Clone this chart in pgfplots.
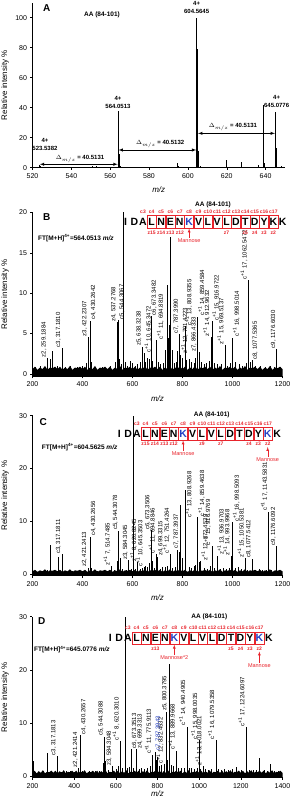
\documentclass[border=0pt]{standalone}
\usepackage{pgfplots}
\pgfplotsset{compat=1.18}
\usepackage{fontspec}
\setmainfont{Liberation Sans}
\setsansfont{Liberation Sans}
\definecolor{annred}{RGB}{232,36,44}
\definecolor{annblue}{RGB}{36,64,196}
\newcommand{\fs}[1]{\fontsize{#1}{#1}\selectfont}
\pgfplotsset{
  msaxis/.style={
    scale only axis, clip=false,
    axis x line*=bottom, axis y line*=left,
    tick align=outside, major tick length=2pt,
    tick style={black, line width=0.4pt},
    axis line style={line width=0.5pt},
    tick label style={font=\fs{7}},
    /pgf/number format/assume math mode=true,
    /pgf/number format/1000 sep={},
    ylabel={Relative intensity \%},
    ylabel style={font=\fs{8}, at={(axis description cs:-0.11,0.5)}, anchor=center},
    xlabel={\itshape m/z},
    xlabel style={font=\fs{8}, at={(axis description cs:0.5,0)}, anchor=center, yshift=-22pt},
  },
  pk/.style={ycomb, black, line width=0.45pt, mark=none},
  lblL/.style={draw=none, mark=none, nodes near coords, point meta=explicit symbolic,
     every node near coord/.style={rotate=90, anchor=south west, inner sep=0.6pt, font=\fs{6}, text=black}},
  lblR/.style={draw=none, mark=none, nodes near coords, point meta=explicit symbolic,
     every node near coord/.style={rotate=90, anchor=north west, inner sep=0.6pt, font=\fs{6}, text=black}},
}
% sequence helpers
\newcommand{\seqx}[1]{\pgfmathsetmacro\xx{(#1)<3 ? \xA+\dA*(#1) : \xL+\dL*((#1)-3)}}
\newcommand{\drawletters}[2]{%
 \foreach \ch [count=\i from 0] in {I,D,A,L,N,E,N,K,V,L,V,L,D,T,D,Y,K,K} {
   \seqx{\i}
   \ifnum\i>2 \ifnum\i<17 \draw[annred, line width=0.4pt] (\xx-4.5,\Yl-6.3) rectangle (\xx+4.5,\Yl+6.3);\fi\fi
   \def\col{black}
   \ifnum\i=#1 \def\col{annblue}\fi
   \ifnum\i=#2 \def\col{annblue}\fi
   \node[font=\bfseries\fs{10.5}, text=\col, inner sep=0] at (\xx,\Yl) {\ch};
 }}
\newcommand{\drawc}{\foreach \n in {3,...,17}{\seqx{\n-1}\node[font=\bfseries\fs{5}, text=annred, inner sep=0] at (\xx,\Yc) {c\n};}}
\newcommand{\drawz}[1]{\foreach \n in {#1}{\seqx{18-\n}\node[font=\bfseries\fs{5}, text=annred, inner sep=0] at (\xx,\Yz) {z\n};}}
\newcommand{\mann}[4]{\seqx{#1}\node[font=\fs{5.5}, text=annred, inner sep=0] at (\xx,#2) {#3};
 \draw[annred, line width=0.4pt, -latex] (\xx,#2+2.8) -- (\xx,#4);}
\begin{document}
\begin{tikzpicture}[x=1pt,y=1pt]
\path[use as bounding box] (0,0) rectangle (292,803);

% ---------------- Panel A ----------------
\begin{axis}[msaxis, at={(32.5pt,635.3pt)}, anchor=south west,
  width=252.5pt, height=165pt, xmin=520, xmax=650, ymin=0, ymax=110,
  xtick={520,540,...,640}, ytick={0,20,...,100},
  ylabel style={at={(axis description cs:-0.109,0.5)}}]
\addplot[pk, line width=0.6pt] coordinates {
 (523.30,0.8) (523.54,1.5) (523.79,1.0) (524.05,0.5)
 (530,0.3) (540,0.3) (551,1.2) (553,0.8) (558,0.6) (561,0.4)
 (564.05,38) (564.18,33) (564.30,26) (564.55,9) (564.80,3) (565.3,1.0) (566,0.5)
 (575,0.4) (585,0.7) (594.8,3.0) (595.2,1.0) (600,0.5)
 (604.56,100) (604.68,79) (604.81,68) (605.06,33) (605.31,11) (605.56,3) (606.5,0.8)
 (610,0.4) (615,0.5) (619.6,5.2) (620,2) (627.4,4.0) (627.7,1.5) (632,0.4) (636,1.5)
 (638.6,42) (638.85,10) (639.1,3)
 (645.08,37) (645.20,27) (645.33,13) (645.58,4) (648.3,1.0)
};
\node[font=\bfseries\fontsize{6}{8}\selectfont, align=center, anchor=south, inner sep=0.5pt] at (axis cs:526.4,10.8) {4+\\523.5382};
\node[font=\bfseries\fontsize{6}{8}\selectfont, align=center, anchor=south, inner sep=0.5pt] at (axis cs:564.0,38.8) {4+\\564.0513};
\node[font=\bfseries\fontsize{6}{8}\selectfont, align=center, anchor=south, inner sep=0.5pt] at (axis cs:604.5,102.3) {4+\\604.5645};
\node[font=\bfseries\fontsize{6}{8}\selectfont, align=center, anchor=south, inner sep=0.5pt] at (axis cs:645.7,39.5) {4+\\645.0776};
\draw[latex-latex, line width=0.5pt] (axis cs:523.8,2.3) -- (axis cs:563.8,2.3);
\draw[latex-latex, line width=0.5pt] (axis cs:564.3,11.8) -- (axis cs:604.3,11.8);
\draw[latex-latex, line width=0.5pt] (axis cs:605.3,22.9) -- (axis cs:644.8,22.9);
\node[font=\bfseries\fs{6}, inner sep=0] at (axis cs:544.5,5.6) {$\Delta_{m/z}$ = 40.5131};
\node[font=\bfseries\fs{6}, inner sep=0] at (axis cs:585.7,15.8) {$\Delta_{m/z}$ = 40.5132};
\node[font=\bfseries\fs{6}, inner sep=0] at (axis cs:623.2,27.1) {$\Delta_{m/z}$ = 40.5131};
\end{axis}
\node[font=\bfseries\fs{10}] at (46.7,794.7) {A};
\node[font=\bfseries\fs{6.5}] at (102,788) {AA (84-101)};

% ---------------- Panel B ----------------
\begin{axis}[msaxis, at={(32.5pt,426.6pt)}, anchor=south west,
  width=250pt, height=164pt, xmin=200, xmax=1200, ymin=-0.3, ymax=20,
  xtick={200,400,...,1200}, ytick={0,5,...,20}]
\addplot[fill=black, draw=none] coordinates {(200,-0.3)
 (200,0.6) (210,0.9) (220,0.5) (230,0.8) (240,0.6) (250,1.0) (260,0.5) (270,0.8) (280,0.7) (290,0.9)
 (300,0.6) (310,0.9) (320,0.5) (330,0.8) (340,0.6) (350,1.0) (360,0.5) (370,0.8) (380,0.7) (390,0.9)
 (400,0.6) (410,0.9) (420,0.5) (430,0.8) (440,0.6) (450,1.0) (460,0.5) (470,0.8) (480,0.7) (490,0.9)
 (500,0.6) (510,0.9) (520,0.5) (530,0.8) (540,0.6) (550,1.0) (560,0.5) (570,0.8) (580,0.7) (590,0.9)
 (600,0.6) (610,0.9) (620,0.5) (630,0.8) (640,0.6) (650,1.0) (660,0.5) (670,0.8) (680,0.7) (690,0.9)
 (700,0.6) (710,0.9) (720,0.5) (730,0.8) (740,0.6) (750,1.0) (760,0.5) (770,0.8) (780,0.7) (790,0.9)
 (800,0.6) (810,0.9) (820,0.5) (830,0.8) (840,0.6) (850,1.0) (860,0.5) (870,0.8) (880,0.7) (890,0.9)
 (900,0.6) (910,0.9) (920,0.5) (930,0.8) (940,0.6) (950,1.0) (960,0.5) (970,0.8) (980,0.7) (990,0.9)
 (1000,0.6) (1010,0.9) (1020,0.5) (1030,0.8) (1040,0.6) (1050,1.0) (1060,0.5) (1070,0.8) (1080,0.7) (1090,0.9)
 (1100,0.6) (1110,0.9) (1120,0.5) (1130,0.8) (1140,0.6) (1150,1.0) (1160,0.5) (1170,0.8) (1180,0.7) (1190,0.9)
 (1200,0.6) (1200,-0.3)} -- cycle;
\addplot[pk] coordinates {
 (210,0.9) (230,1.0) (245,0.9) (259.19,2.0) (270,1.8) (280.5,2.9) (300,1.0) (317.18,3.2) (330,0.9) (350,1.0)
 (380,0.9) (400,1.0) (415,1.3) (422.23,4.6) (430.26,6.6) (433,1.5) (450,0.9) (480,0.9) (510,1.0) (530,1.5)
 (537.28,6.4) (544.31,6.7) (548,1.8) (555,1.2) (564.05,20) (570,1.5) (580,1.0) (592,1.6) (597,1.4) (610,1.0)
 (620,1.2) (630,1.5) (638.32,3.4) (645.35,2.6) (652,1.5) (660,2.0) (667,1.8) (673.35,7.2) (680,1.6) (694.88,4.2)
 (702,1.5) (712,1.2) (722,1.4) (730,3.0) (737,11.0) (742,4.5) (746,6.0) (752.5,17.0) (758,3.0) (765,1.3)
 (773,1.5) (780,2.8) (787.40,4.9) (791.42,2.4) (800,2.0) (808.94,5.9) (815,1.7) (825,1.8) (835,1.5) (845,1.3)
 (852,2.0) (859.46,7.1) (866.43,2.7) (875,1.5) (885,1.2) (895,1.4) (905,1.6) (912.96,4.6) (916.97,6.5) (925,1.4)
 (940,1.2) (955,1.2) (969.51,3.6) (980,1.0) (990,1.3) (998.50,4.5) (1010,1.5) (1025,1.2) (1040,1.0) (1055,1.3)
 (1062.55,11.6) (1070,1.5) (1077.54,1.7) (1090,1.0) (1110,1.0) (1130,0.9) (1150,1.0) (1165,0.9) (1176.60,3.1) (1190,0.9)
};
\addplot[lblL] coordinates {
 (259.19,2.0) [z2, 259.1884]
 (317.18,3.2) [c3, 317.1810]
 (422.23,4.6) [z3, 422.2307]
 (537.28,6.4) [z4, 537.2768]
 (638.32,3.4) [z5, 638.3238]
 (787.40,4.9) [c7, 787.3990]
 (858.5,2.7) [z7, 866.4333]
 (912.96,4.6) [z\textsuperscript{+1} 14, 912.9632]
 (969.51,3.6) [z\textsuperscript{+1} 15, 969.5137]
 (1062.55,11.6) [c\textsuperscript{+1} 17, 1062.5472]
 (1176.60,3.1) [c9, 1176.6030]
};
\addplot[lblR] coordinates {
 (430.26,6.6) [c4, 430.2642]
 (544.31,6.7) [c5, 544.3067]
 (645.35,2.6) [c\textsuperscript{+1} 10, 645.3472]
 (673.35,7.2) [c6, 673.3482]
 (694.88,4.2) [c\textsuperscript{+1} 11, 694.8819]
 (791.42,2.4) [z\textsuperscript{+1} 12, 791.4223]
 (808.94,5.9) [c\textsuperscript{+1} 13, 808.9355]
 (859.46,7.1) [c\textsuperscript{+1} 14, 859.4584]
 (916.97,6.5) [c\textsuperscript{+1} 15, 916.9722]
 (998.50,4.5) [c\textsuperscript{+1} 16, 998.5014]
 (1077.54,1.7) [c8, 1077.5365]
};
\end{axis}
\node[font=\bfseries\fs{10}] at (46.7,586.3) {B};
\node[font=\bfseries\fs{6.5}] at (213,598) {AA (84-101)};
\node[font=\bfseries\fs{6.5}, anchor=west, inner sep=0] at (38,564.7) {FT[M+H]\textsuperscript{4+}=564.0513 \textit{m/z}};
\def\xA{125.6}\def\dA{8.7}\def\xL{151.7}\def\dL{9.36}
\def\Yl{581}\def\Yc{591.5}\def\Yz{570.5}
\drawletters{7}{99}
\drawc
\drawz{15,14,13,12,7,5,4,3,2}
\mann{7}{562.5}{Mannose}{574.5}

% ---------------- Panel C ----------------
\begin{axis}[msaxis, at={(32.5pt,227.4pt)}, anchor=south west,
  width=250pt, height=159.9pt, xmin=200, xmax=1200, ymin=-0.3, ymax=30,
  xtick={200,400,...,1200}, ytick={0,10,20,30}]
\addplot[fill=black, draw=none] coordinates {(200,-0.3)
 (200,0.5) (210,0.8) (220,0.4) (230,0.7) (240,0.5) (250,0.9) (260,0.4) (270,0.7) (280,0.6) (290,0.8)
 (300,0.5) (310,0.8) (320,0.4) (330,0.7) (340,0.5) (350,0.9) (360,0.4) (370,0.7) (380,0.6) (390,0.8)
 (400,0.5) (410,0.8) (420,0.4) (430,0.7) (440,0.5) (450,0.9) (460,0.4) (470,0.7) (480,0.6) (490,0.8)
 (500,0.5) (510,0.8) (520,0.4) (530,0.7) (540,0.5) (550,0.9) (560,0.4) (570,0.7) (580,0.6) (590,0.8)
 (600,0.5) (610,0.8) (620,0.4) (630,0.7) (640,0.5) (650,0.9) (660,0.4) (670,0.7) (680,0.6) (690,0.8)
 (700,0.5) (710,0.8) (720,0.4) (730,0.7) (740,0.5) (750,0.9) (760,0.4) (770,0.7) (780,0.6) (790,0.8)
 (800,0.5) (810,0.8) (820,0.4) (830,0.7) (840,0.5) (850,0.9) (860,0.4) (870,0.7) (880,0.6) (890,0.8)
 (900,0.5) (910,0.8) (920,0.4) (930,0.7) (940,0.5) (950,0.9) (960,0.4) (970,0.7) (980,0.6) (990,0.8)
 (1000,0.5) (1010,0.8) (1020,0.4) (1030,0.7) (1040,0.5) (1050,0.9) (1060,0.4) (1070,0.7) (1080,0.6) (1090,0.8)
 (1100,0.5) (1110,0.8) (1120,0.4) (1130,0.7) (1140,0.5) (1150,0.9) (1160,0.4) (1170,0.7) (1180,0.6) (1190,0.8)
 (1200,0.5) (1200,-0.3)} -- cycle;
\addplot[pk] coordinates {
 (210,0.6) (240,0.5) (258,0.8) (272,5.5) (285,0.6) (302,3.2) (317.18,3.7) (330,0.6) (360,0.5) (385,0.7)
 (400,0.5) (421.24,1.2) (430.27,7.1) (433,1.2) (460,0.5) (490,0.6) (505,0.7) (514.75,1.5) (525,0.8) (538,2.5)
 (544.31,8.2) (550,3.0) (560,0.9) (575,0.8) (584.30,2.6) (595,0.9) (604.56,30) (612,0.9) (620.82,2.2) (630,1.0)
 (638,1.2) (645.35,1.3) (652,1.5) (660,1.3) (667,2.0) (673.35,8.3) (680,2.5) (686,1.2) (694.88,3.8) (699.33,3.3)
 (710,1.0) (720,1.4) (730,1.3) (740,1.5) (751.43,3.7) (760,1.2) (770,1.4) (780,4.5) (787.39,4.1) (791,13.0)
 (797,3.0) (808.93,16.0) (812,3.0) (825,1.4) (835,1.2) (845,1.6) (852,1.8) (859.46,10.8) (865,2.2) (872.45,2.4)
 (885,1.2) (900,1.0) (910,1.5) (916.98,5.3) (925,1.2) (936.97,3.5) (950,1.0) (962,1.1) (975,0.9) (985,1.2)
 (993.50,3.4) (998.51,9.8) (1010,1.2) (1022,1.3) (1035,0.9) (1050.53,3.0) (1060,0.8) (1077.54,2.9) (1090,0.8) (1105,0.9)
 (1120,0.7) (1135,0.8) (1143.58,11.8) (1155,0.7) (1176.60,5.3) (1190,0.6)
};
\addplot[lblL] coordinates {
 (317.18,3.7) [c3, 317.1811]
 (421.24,1.2) [z2, 421.2413]
 (514.75,1.5) [z\textsuperscript{+1} 7, 514.7485]
 (544.31,8.2) [c5, 544.3078]
 (584.30,2.6) [z3, 584.3045]
 (620.82,2.2) [z\textsuperscript{+1} 8, 620.8245]
 (645.35,1.3) [c\textsuperscript{+1} 10, 645.3503]
 (673.35,8.3) [c6, 673.3506]
 (694.88,3.8) [c\textsuperscript{+1} 11, 694.8846]
 (751.43,3.7) [c\textsuperscript{+1} 12, 751.4264]
 (787.39,4.6) [c7, 787.3937]
 (916.98,5.3) [c\textsuperscript{+1} 15, 916.9769]
 (993.50,3.4) [z\textsuperscript{+1} 14, 993.9968]
 (1050.53,3.0) [z\textsuperscript{+1} 15, 1050.5381]
 (1077.54,2.9) [c8, 1077.5412]
 (1143.58,11.8) [c\textsuperscript{+1} 17, 1143.5831]
 (1176.60,5.3) [c9, 1176.6092]
};
\addplot[lblR] coordinates {
 (430.27,7.1) [c4, 430.2656]
 (699.33,3.3) [z4, 699.3315]
 (808.93,10.6) [c\textsuperscript{+1} 13, 808.9268]
 (859.46,10.8) [c\textsuperscript{+1} 14, 859.4638]
 (872.45,2.4) [z\textsuperscript{+1} 12, 872.4539]
 (936.97,3.5) [z\textsuperscript{+1} 13, 936.9703]
 (998.51,9.8) [c\textsuperscript{+1} 16, 998.5093]
};
\end{axis}
\node[font=\bfseries\fs{10}] at (43.3,381.3) {C};
\node[font=\bfseries\fs{6.5}] at (211.7,388) {AA (84-101)};
\node[font=\bfseries\fs{6.5}, anchor=west, inner sep=0] at (41.7,356) {FT[M+H]\textsuperscript{4+}=604.5625 \textit{m/z}};
\def\xA{119.4}\def\dA{8.7}\def\xL{145.5}\def\dL{9.4}
\def\Yl{369.3}\def\Yc{379.5}\def\Yz{358.8}
\drawletters{7}{16}
\drawc
\drawz{15,14,13,12,9,7,4,3,2}
\mann{7}{349.2}{Mannose}{362.5}
\mann{16}{343.2}{Mannose}{356}

% ---------------- Panel D ----------------
\begin{axis}[msaxis, at={(32.5pt,25.4pt)}, anchor=south west,
  width=250pt, height=160.9pt, xmin=200, xmax=1400, ymin=-0.3, ymax=30,
  xtick={200,400,...,1400}, ytick={0,10,20,30},
  xlabel style={yshift=6pt}]
\addplot[fill=black, draw=none] coordinates {(200,-0.3)
 (200,0.6) (210,1.0) (220,0.5) (230,0.9) (240,0.6) (250,1.1) (260,0.5) (270,0.8) (280,0.7) (290,1.0)
 (300,0.6) (310,1.0) (320,0.5) (330,0.9) (340,0.6) (350,1.1) (360,0.5) (370,0.8) (380,0.7) (390,1.0)
 (400,0.6) (410,1.0) (420,0.5) (430,0.9) (440,0.6) (450,1.1) (460,0.5) (470,0.8) (480,0.7) (490,1.0)
 (500,0.6) (510,1.0) (520,0.5) (530,0.9) (540,0.6) (550,1.1) (560,0.5) (570,0.8) (580,0.7) (590,1.0)
 (600,0.6) (610,1.0) (620,0.5) (630,0.9) (640,0.6) (650,1.1) (660,0.5) (670,0.8) (680,0.7) (690,1.0)
 (700,0.6) (710,1.0) (720,0.5) (730,0.9) (740,0.6) (750,1.1) (760,0.5) (770,0.8) (780,0.7) (790,1.0)
 (800,0.6) (810,1.0) (820,0.5) (830,0.9) (840,0.6) (850,1.1) (860,0.5) (870,0.8) (880,0.7) (890,1.0)
 (900,0.6) (910,1.0) (920,0.5) (930,0.9) (940,0.6) (950,1.1) (960,0.5) (970,0.8) (980,0.7) (990,1.0)
 (1000,0.6) (1010,1.0) (1020,0.5) (1030,0.9) (1040,0.6) (1050,1.1) (1060,0.5) (1070,0.8) (1080,0.7) (1090,1.0)
 (1100,0.6) (1110,1.0) (1120,0.5) (1130,0.9) (1140,0.6) (1150,1.1) (1160,0.5) (1170,0.8) (1180,0.7) (1190,1.0)
 (1200,0.6) (1210,1.0) (1220,0.5) (1230,0.9) (1240,0.6) (1250,1.1) (1260,0.5) (1270,0.8) (1280,0.7) (1290,1.0)
 (1300,0.6) (1310,1.0) (1320,0.5) (1330,0.9) (1340,0.6) (1350,1.1) (1360,0.5) (1370,0.8) (1380,0.7) (1390,1.0)
 (1400,0.6) (1400,-0.3)} -- cycle;
\addplot[pk] coordinates {
 (205,2.8) (230,0.8) (250,0.9) (272,4.3) (290,0.8) (317.18,3.8) (320.5,3.2) (340,0.8) (360,0.9) (380,1.0)
 (400,0.8) (421.24,1.5) (430.27,7.7) (440,1.0) (470,0.9) (500,0.9) (520,1.0) (538,2.4) (544.31,7.4) (550,2.9)
 (565,1.2) (584.30,1.8) (600,1.4) (610,1.8) (620.83,6.6) (630,1.6) (645.08,30) (655,1.5) (665,1.7) (673.35,5.1)
 (685,1.5) (699.33,5.0) (710,1.4) (720,1.6) (735,1.3) (750,1.5) (765,1.8) (775.91,4.0) (787.39,4.6) (793,3.0)
 (800.38,3.5) (810,1.8) (820,2.0) (832.45,2.2) (842,12.0) (848,3.0) (858,21.0) (865,2.0) (875,1.8) (889.97,4.8)
 (900,1.6) (915,1.5) (930,1.6) (940.49,9.3) (950,1.5) (960,1.6) (975,1.4) (990,1.5) (998.00,6.8) (1005,1.3)
 (1018.00,1.9) (1030,1.3) (1045,1.2) (1060,1.4) (1079.54,6.8) (1090,1.3) (1105,1.2) (1120,1.3) (1140,1.2) (1160,1.3)
 (1180,1.7) (1200,1.2) (1224.61,9.2) (1240,1.2) (1260,1.1) (1275,1.2) (1290,3.4) (1310,1.1) (1325,1.0) (1340,2.2)
 (1360,1.0) (1380,0.9)
};
\addplot[lblL] coordinates {
 (317.18,3.8) [c3, 317.1813]
 (421.24,1.5) [z2, 421.2414]
 (544.31,7.4) [c5, 544.3088]
 (584.30,1.8) [z3, 584.3048]
 (620.83,6.6) [c\textsuperscript{+1} 8, 620.3010]
 (775.91,4.0) [c\textsuperscript{+1} 11, 775.9113]
 (832.45,2.2) [c\textsuperscript{+1} 12, 832.4532]
 (850,12.2) [z5, 800.3795]
 (889.97,4.8) [c\textsuperscript{+1} 13, 889.9668]
 (940.49,9.3) [c\textsuperscript{+1} 14, 940.4905]
 (998.00,6.8) [c\textsuperscript{+1} 15, 998.0035]
 (1018.00,1.9) [z\textsuperscript{+1} 13, 1018.0021]
 (1079.54,6.8) [c\textsuperscript{+1} 16, 1079.5358]
 (1224.61,9.2) [c\textsuperscript{+1} 17, 1224.6097]
};
\addplot[lblR] coordinates {
 (430.27,7.7) [c4, 430.2657]
 (673.35,5.1) [c6, 673.3513]
 (699.33,5.0) [z4, 699.3313]
};
\addplot[lblR, every node near coord/.append style={text=annblue}] coordinates {
 (787.39,4.6) [c7, 787.3943]
};
\end{axis}
\node[font=\bfseries\fs{10}] at (41.7,182) {D};
\node[font=\bfseries\fs{6.5}] at (209.3,186.5) {AA (84-101)};
\node[font=\bfseries\fs{6.5}, anchor=west, inner sep=0] at (34,153.5) {FT[M+H]\textsuperscript{4+}=645.0776 \textit{m/z}};
\def\xA{110.4}\def\dA{8.7}\def\xL{136.5}\def\dL{9.45}
\def\Yl{164.7}\def\Yc{174.9}\def\Yz{154.2}
\drawletters{7}{16}
\drawc
\drawz{13,5,4,3,2}
\mann{7}{145.5}{Mannose*2}{158.3}
\mann{16}{137.5}{Mannose}{151.5}
\end{tikzpicture}
\end{document}
